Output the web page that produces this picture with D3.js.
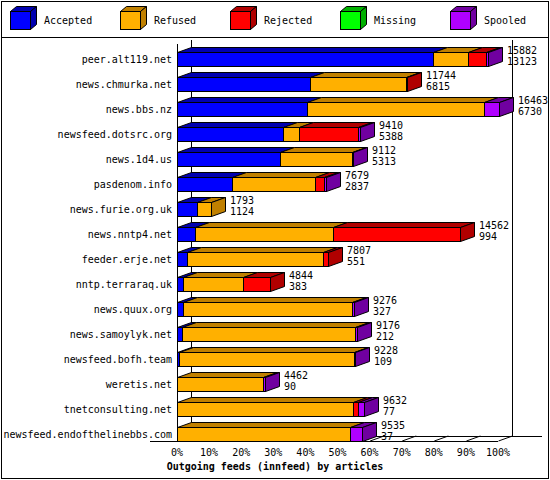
<!DOCTYPE html>
<html><head><meta charset="utf-8">
<script src="https://cdn.jsdelivr.net/npm/d3@7"></script>
<style>body{margin:0;background:#fff}text{font-family:"DejaVu Sans Mono",monospace;font-size:10px}</style>
</head><body><svg id="c" width="550" height="480"></svg>
<script>
var hosts = ["peer.alt119.net","news.chmurka.net","news.bbs.nz","newsfeed.dotsrc.org","news.1d4.us","pasdenom.info","news.furie.org.uk","news.nntp4.net","feeder.erje.net","nntp.terraraq.uk","news.quux.org","news.samoylyk.net","newsfeed.bofh.team","weretis.net","tnetconsulting.net","newsfeed.endofthelinebbs.com"];
// percentages per series
var accepted = [79.7,41.4,40.5,33,32,17,6.2,5.6,3,2,2,1.5,0.5,0,0,0];
var refused  = [11,29.9,55.1,5,22.4,26,4.4,43,42.4,18.7,52.6,54,54.5,26.8,54.8,54];
var rejected = [5.6,0.3,0,18.4,0,2.8,0,39.6,1.5,8.4,0,0,0,0,1.5,0];
var missing  = [0,0,0,0,0,0,0,0,0,0,0,0,0,0,0,0];
var spooled  = [0.5,0,4.7,0.5,0.5,0.5,0,0,0,0,0.5,0.5,0.5,0.5,1.9,3.7];
var totals   = [15882,11744,16463,9410,9112,7679,1793,14562,7807,4844,9276,9176,9228,4462,9632,9535];
var second   = [13123,6815,6730,5388,5313,2837,1124,994,551,383,327,212,109,90,77,37];
var seriesNames = ["Accepted","Refused","Rejected","Missing","Spooled"];
var seriesData = [accepted,refused,rejected,missing,spooled];
var front = ["#0000ff","#ffb000","#ff0000","#00ff00","#b000ff"];
var dark  = ["#0000b0","#c08000","#b00000","#00b000","#7000a0"];
var ticks = d3.range(0,101,10);

var svg = d3.select("#c");
var dx = 14, dy = 5;
var x = d3.scaleLinear().domain([0,100]).range([177,498]);
var y = d3.scalePoint().domain(hosts).range([58.5,433.5]);
var bh = 14;
var floorY = 441;

svg.append("rect").attr("x",1.5).attr("y",1.5).attr("width",547).attr("height",477).attr("fill","none").attr("stroke","#000");
svg.append("line").attr("x1",1.5).attr("x2",548.5).attr("y1",37.5).attr("y2",37.5).attr("stroke","#000");

function box(g, x0, y0, w, h, i, side) {
  g.append("path").attr("d",`M${x0},${y0}l${dx},${-dy}h${w}l${-dx},${dy}Z`).attr("fill",dark[i]).attr("stroke","#000");
  if (side) g.append("path").attr("d",`M${x0+w},${y0}l${dx},${-dy}v${h}l${-dx},${dy}Z`).attr("fill",dark[i]).attr("stroke","#000");
  g.append("rect").attr("x",x0).attr("y",y0).attr("width",w).attr("height",h).attr("fill",front[i]).attr("stroke","#000");
}

// legend
var lg = svg.append("g");
seriesNames.forEach(function(n,i){
  var lx = 10 + i*110;
  dx = 6; dy = 5;
  box(lg, lx+0.5, 11.5, 20, 18, i, true);
  lg.append("text").attr("x",lx+34).attr("y",24).text(n);
});
dx = 14; dy = 5;

// axes / walls
var ax = svg.append("g").attr("stroke","#000").attr("fill","none");
ax.append("line").attr("x1",177.5).attr("x2",177.5).attr("y1",44).attr("y2",floorY);
ax.append("line").attr("x1",191.5).attr("x2",191.5).attr("y1",40).attr("y2",floorY-dy);
ax.append("line").attr("x1",x(100)+dx+0.5).attr("x2",x(100)+dx+0.5).attr("y1",40).attr("y2",floorY-dy);
ax.append("line").attr("x1",150).attr("x2",x(100)).attr("y1",floorY+0.5).attr("y2",floorY+0.5);
ax.append("line").attr("x1",191).attr("x2",x(100)+dx+30).attr("y1",floorY-dy+0.5).attr("y2",floorY-dy+0.5);
ticks.forEach(function(t){
  ax.append("line").attr("x1",x(t)+0.5).attr("y1",floorY).attr("x2",x(t)+dx+0.5).attr("y2",floorY-dy);
  svg.append("text").attr("x",x(t)).attr("y",floorY+15).attr("text-anchor","middle").text(t+"%");
});

// bars
hosts.forEach(function(h,r){
  var g = svg.append("g");
  var y0 = Math.round(y(h) - bh/2)+0.5;
  var cum = 0, last = 0;
  seriesData.forEach(function(s,i){ if (s[r] > 0) last = i; });
  seriesData.forEach(function(s,i){
    if (s[r] <= 0) return;
    var x0 = Math.round(x(cum))+0.5, x1 = Math.round(x(cum+s[r]))+0.5;
    box(g, x0, y0, x1-x0, bh, i, i === last);
    cum += s[r];
  });
  var ex = Math.round(x(cum)) + dx + 5;
  g.append("text").attr("x",ex).attr("y",y0+1).text(totals[r]);
  g.append("text").attr("x",ex).attr("y",y0+12).text(second[r]);
  svg.append("text").attr("x",172).attr("y",y(h)+4).attr("text-anchor","end").text(h);
});

svg.append("text").attr("x",275).attr("y",470).attr("text-anchor","middle").attr("font-weight","bold").attr("font-size","11px").text("Outgoing feeds (innfeed) by articles");
</script></body></html>
